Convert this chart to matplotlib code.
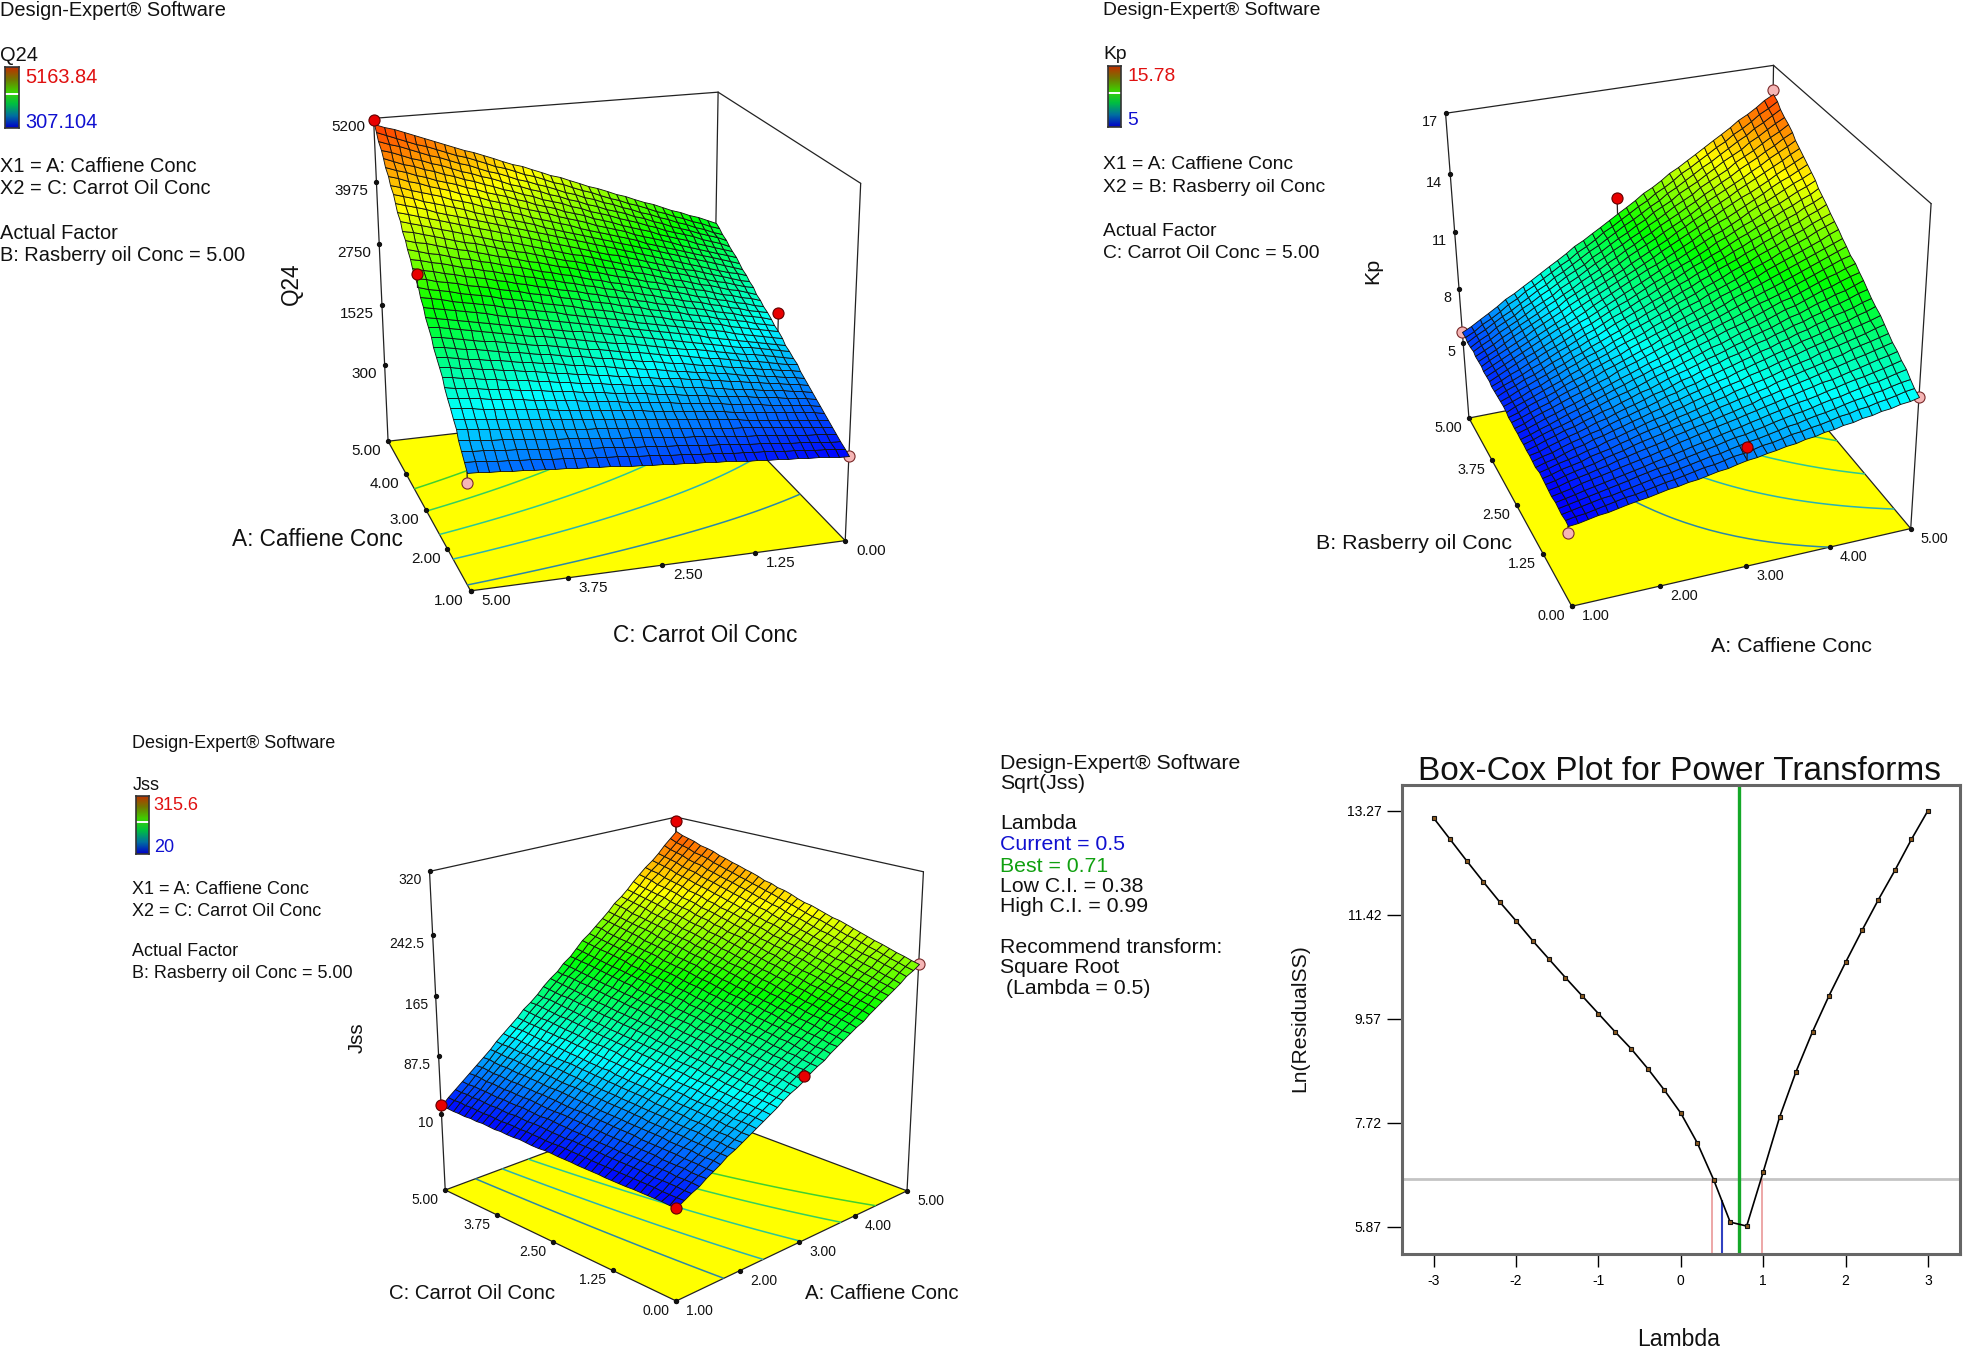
import numpy as np
import matplotlib
matplotlib.use('Agg')
import matplotlib.pyplot as plt
from matplotlib.colors import LinearSegmentedColormap, Normalize

plt.rcParams['font.family'] = ['Liberation Sans', 'DejaVu Sans']
plt.rcParams['axes.unicode_minus'] = False

# Q24 response, corners are (A, C) with B fixed at 5
q24_a = [1.0, 5.0]
q24_c = [0.0, 5.0]
q24_corners = [[307.0, 857.0], [2564.0, 5099.0]]
q24_range = [307.104, 5163.84]
q24_levels = [1000, 1650, 2300, 2950, 3600]
q24_points_a = [5, 3, 3, 1, 1]
q24_points_c = [5, 5, 0, 5, 0]
q24_points_z = [5163.84, 3230, 1806, 675, 307.1]
q24_points_above = [True, True, True, False, False]
q24_ticks_z = [300, 1525, 2750, 3975, 5200]
q24_ticks_a = [1.0, 2.0, 3.0, 4.0, 5.0]
q24_ticks_c = [0.0, 1.25, 2.5, 3.75, 5.0]

# Kp response, corners are (A, B) with C fixed at 5
kp_a = [1.0, 5.0]
kp_b = [0.0, 5.0]
kp_corners = [[4.9, 5.6], [7.7, 15.55]]
kp_range = [5.0, 15.78]
kp_levels = [7, 8.5, 10, 11.5, 13]
kp_points_a = [5, 1, 1, 5, 3, 3]
kp_points_b = [5, 5, 0, 0, 5, 0]
kp_points_z = [15.73, 5.6, 4.55, 7.7, 11.41, 7.0]
kp_points_above = [False, False, False, False, True, True]
kp_ticks_z = [5, 8, 11, 14, 17]
kp_ticks_a = [1.0, 2.0, 3.0, 4.0, 5.0]
kp_ticks_b = [0.0, 1.25, 2.5, 3.75, 5.0]

# Jss response, corners are (A, C) with B fixed at 5
jss_a = [1.0, 5.0]
jss_c = [0.0, 5.0]
jss_corners = [[20.6, 22.0], [206.0, 300.7]]
jss_range = [20.0, 315.6]
jss_levels = [55, 85, 115, 148, 178]
jss_points_a = [5, 1, 1, 5, 3]
jss_points_c = [5, 5, 0, 0, 0]
jss_points_z = [315.0, 22.7, 20.6, 206, 118]
jss_points_above = [True, True, True, False, True]
jss_ticks_z = [10, 87.5, 165, 242.5, 320]
jss_ticks_a = [1.0, 2.0, 3.0, 4.0, 5.0]
jss_ticks_c = [0.0, 1.25, 2.5, 3.75, 5.0]

# Box-Cox curve
lambda_vals = [-3.0, -2.8, -2.6, -2.4, -2.2, -2.0, -1.8, -1.6, -1.4, -1.2, -1.0,
               -0.8, -0.6, -0.4, -0.2, 0.0, 0.2, 0.4, 0.6, 0.8, 1.0,
               1.2, 1.4, 1.6, 1.8, 2.0, 2.2, 2.4, 2.6, 2.8, 3.0]
ln_rss = [13.14, 12.76, 12.38, 12.01, 11.65, 11.31, 10.96, 10.63, 10.30, 9.98, 9.66,
          9.34, 9.03, 8.68, 8.30, 7.89, 7.36, 6.70, 5.95, 5.88, 6.84,
          7.82, 8.63, 9.34, 9.98, 10.57, 11.14, 11.69, 12.21, 12.76, 13.27]
boxcox_yticks = [5.87, 7.72, 9.57, 11.42, 13.27]
boxcox_xticks = [-3, -2, -1, 0, 1, 2, 3]
lambda_best = 0.71
lambda_current = 0.5
lambda_low = 0.38
lambda_high = 0.99
ci_level = 6.725
current_top = 6.34

surface_cmap = LinearSegmentedColormap.from_list(
    'surface', ['#0000ff', '#00ffff', '#00ff00', '#ffff00', '#ff2800'])
contour_cmap = LinearSegmentedColormap.from_list(
    'contour', ['#2a88a8', '#28c0b8', '#30d070', '#40d030'])
legend_cmap = LinearSegmentedColormap.from_list(
    'legend', ['#0000c8', '#0070a0', '#00c040', '#40d000', '#707800', '#c03000'])

fig = plt.figure(figsize=(19.68, 13.52), dpi=100)
ax = fig.add_axes([0, 0, 1, 1])
ax.set_xlim(0, 1968)
ax.set_ylim(1352, 0)
ax.axis('off')


def fit_camera(world, pix):
    rows = []
    for (x, y, z), (u, v) in zip(world, pix):
        rows.append([x, y, z, 1, 0, 0, 0, 0, -u * x, -u * y, -u * z, -u])
        rows.append([0, 0, 0, 0, x, y, z, 1, -v * x, -v * y, -v * z, -v])
    return np.linalg.svd(np.array(rows, dtype=float))[2][-1].reshape(3, 4)


class Box:
    # perspective box, calibrated from where its corners sit on the canvas
    def __init__(self, ur, vr, zr, corners):
        self.ur, self.vr, self.zr = ur, vr, zr
        world = [self.norm(u, v, z) for (u, v, z), _ in corners]
        self.cam = fit_camera(world, [p for _, p in corners])

    def norm(self, u, v, z):
        return ((u - self.ur[0]) / (self.ur[1] - self.ur[0]),
                (v - self.vr[0]) / (self.vr[1] - self.vr[0]),
                (z - self.zr[0]) / (self.zr[1] - self.zr[0]))

    def project(self, u, v, z):
        x, y, w = self.norm(np.asarray(u, float), np.asarray(v, float), np.asarray(z, float))
        c = self.cam
        d = c[2, 0] * x + c[2, 1] * y + c[2, 2] * w + c[2, 3]
        return ((c[0, 0] * x + c[0, 1] * y + c[0, 2] * w + c[0, 3]) / d,
                (c[1, 0] * x + c[1, 1] * y + c[1, 2] * w + c[1, 3]) / d)


def draw_line(box, p, q):
    x, y = box.project(*zip(p, q))
    ax.plot(x, y, color='#222222', lw=0.9, solid_capstyle='round', zorder=2)


def draw_surface(box, ua, va, corners, zrange, levels, pts, ticks_z, ticks_u, ticks_v,
                 u_side, v_side, fs, cells=36):
    u0, u1 = ua
    v0, v1 = va
    zf, zt = box.zr
    zc = np.array(corners)
    uu, vv = np.meshgrid(np.linspace(u0, u1, cells + 1), np.linspace(v0, v1, cells + 1), indexing='ij')
    fu = (uu - u0) / (u1 - u0)
    fv = (vv - v0) / (v1 - v0)
    zz = (zc[0, 0] * (1 - fu) * (1 - fv) + zc[0, 1] * (1 - fu) * fv
          + zc[1, 0] * fu * (1 - fv) + zc[1, 1] * fu * fv)
    norm = Normalize(zrange[0], zrange[1])

    # floor with contours
    fx, fy = box.project(uu, vv, zf * np.ones_like(uu))
    ax.fill([fx[0, 0], fx[-1, 0], fx[-1, -1], fx[0, -1]], [fy[0, 0], fy[-1, 0], fy[-1, -1], fy[0, -1]],
            color='#ffff00', ec='#222222', lw=0.9, zorder=1)
    ax.contour(fx, fy, zz, levels=levels, cmap=contour_cmap, linewidths=1.1, zorder=1.5)

    # the three standing edges and the top
    left, right, back = box.edges
    for c in (left, right, back):
        draw_line(box, (c[0], c[1], zf), (c[0], c[1], zt))
    draw_line(box, (left[0], left[1], zt), (back[0], back[1], zt))
    draw_line(box, (back[0], back[1], zt), (right[0], right[1], zt))

    # points below the surface go first so the sheet covers their stems
    def surf_at(a, b):
        gu = (a - u0) / (u1 - u0)
        gv = (b - v0) / (v1 - v0)
        return (zc[0, 0] * (1 - gu) * (1 - gv) + zc[0, 1] * (1 - gu) * gv
                + zc[1, 0] * gu * (1 - gv) + zc[1, 1] * gu * gv)

    for a, b, z, above in pts:
        if not above:
            x, y = box.project([a, a], [b, b], [z, surf_at(a, b)])
            ax.plot(x, y, color='#222222', lw=0.9, zorder=3)
            ax.plot(x[0], y[0], 'o', ms=8, mfc='#f5b5b5', mec='#7a2a2a', mew=0.8, zorder=3)

    sx, sy = box.project(uu, vv, zz)
    ax.pcolormesh(sx, sy, 0.25 * (zz[:-1, :-1] + zz[1:, :-1] + zz[:-1, 1:] + zz[1:, 1:]),
                  cmap=surface_cmap, norm=norm, edgecolors='#101010', linewidth=0.62,
                  antialiased=True, zorder=4)

    for a, b, z, above in pts:
        if above:
            x, y = box.project([a, a], [b, b], [z, surf_at(a, b)])
            ax.plot(x, y, color='#222222', lw=0.9, zorder=5)
            ax.plot(x[0], y[0], 'o', ms=8, mfc='#e80000', mec='#600000', mew=0.8, zorder=5)

    # ticks
    for t in ticks_z:
        x, y = box.project(left[0], left[1], t)
        ax.plot(x, y, 'o', ms=2.8, color='#111111', zorder=2)
        ax.text(x - 8, y + 9, f'{t:g}', ha='right', va='center', fontsize=fs, color='#111111', zorder=6)
    for t in ticks_u:
        p = (t, u_side, zf)
        x, y = box.project(*p)
        ax.plot(x, y, 'o', ms=2.8, color='#111111', zorder=2)
        ax.text(x + box.u_off, y + 10, f'{t:.2f}', ha='left' if box.u_off > 0 else 'right',
                va='center', fontsize=fs, color='#111111', zorder=6)
    for t in ticks_v:
        p = (v_side, t, zf)
        x, y = box.project(*p)
        ax.plot(x, y, 'o', ms=2.8, color='#111111', zorder=2)
        ax.text(x + box.v_off, y + 10, f'{t:.2f}', ha='left' if box.v_off > 0 else 'right',
                va='center', fontsize=fs, color='#111111', zorder=6)


def draw_notes(x, lines, bar, fs):
    for txt, ly, col, dx in lines:
        ax.text(x + dx, ly + 2, txt, ha='left', va='center', fontsize=fs, color=col, zorder=6)
    bx0, bx1, by0, by1 = bar
    cax = fig.add_axes([bx0 / 1968, 1 - by1 / 1352, (bx1 - bx0) / 1968, (by1 - by0) / 1352])
    cax.imshow(np.linspace(1, 0, 100).reshape(-1, 1), cmap=legend_cmap, aspect='auto', extent=[0, 1, 0, 1])
    cax.axhline(0.55, color='white', lw=1.4)
    cax.set_xticks([])
    cax.set_yticks([])
    for s in cax.spines.values():
        s.set_linewidth(1.2)
        s.set_color('#333333')


# --- Q24 ---
box1 = Box((1, 5), (0, 5), (-1315, 5200), [
    ((5, 5, -1315), (387.4, 439.0)), ((5, 5, 5200), (374.2, 119.1)),
    ((1, 5, -1315), (470.7, 592.6)),
    ((1, 0, -1315), (843.8, 538.8)), ((1, 0, 5200), (862.1, 183.5)),
    ((5, 0, -1315), (714.6, 406.2)), ((5, 0, 5200), (716.3, 91.3))])
box1.edges = [(5, 5), (1, 0), (5, 0)]
box1.u_off, box1.v_off = -7, 11
draw_surface(box1, q24_a, q24_c, q24_corners, q24_range, q24_levels,
             list(zip(q24_points_a, q24_points_c, q24_points_z, q24_points_above)),
             q24_ticks_z, q24_ticks_a, q24_ticks_c, 5, 1, 11)
draw_notes(0, [('Design-Expert® Software', 9, '#111111', 0), ('Q24', 53.5, '#111111', 0),
               ('5163.84', 75.8, '#e01010', 25), ('307.104', 120.8, '#1010d0', 25),
               ('X1 = A: Caffiene Conc', 164, '#111111', 0), ('X2 = C: Carrot Oil Conc', 186.5, '#111111', 0),
               ('Actual Factor', 231.5, '#111111', 0), ('B: Rasberry oil Conc = 5.00', 253.4, '#111111', 0)],
           (5, 19, 67, 128), 14.4)
ax.text(317, 540, 'A: Caffiene Conc', ha='center', va='center', fontsize=16.3, color='#111111', zorder=6)
ax.text(705, 635.5, 'C: Carrot Oil Conc', ha='center', va='center', fontsize=16.3, color='#111111', zorder=6)
ax.text(291.6, 284, 'Q24', ha='center', va='center', rotation=90, fontsize=16.3, color='#111111', zorder=6)

# --- Kp ---
box2 = Box((1, 5), (0, 5), (0.73, 17), [
    ((1, 5, 0.73), (1468, 415.8)), ((1, 5, 17), (1446.7, 114.1)),
    ((1, 0, 0.73), (1571.6, 608)),
    ((5, 0, 0.73), (1909.3, 526.4)), ((5, 0, 17), (1932.8, 204.2)),
    ((5, 5, 0.73), (1771, 362)), ((5, 5, 17), (1771, 64.1))])
box2.edges = [(1, 5), (5, 0), (5, 5)]
box2.u_off, box2.v_off = 10, -7
draw_surface(box2, kp_a, kp_b, kp_corners, kp_range, kp_levels,
             list(zip(kp_points_a, kp_points_b, kp_points_z, kp_points_above)),
             kp_ticks_z, kp_ticks_a, kp_ticks_b, 0, 1, 10.4)
draw_notes(1103, [('Design-Expert® Software', 8.5, '#111111', 0), ('Kp', 52.6, '#111111', 0),
                  ('15.78', 74.8, '#e01010', 24.5), ('5', 118.8, '#1010d0', 24.5),
                  ('X1 = A: Caffiene Conc', 162.4, '#111111', 0), ('X2 = B: Rasberry oil Conc', 185.4, '#111111', 0),
                  ('Actual Factor', 229.5, '#111111', 0), ('C: Carrot Oil Conc = 5.00', 251.7, '#111111', 0)],
           (1108, 1121, 66, 127), 13.9)
ax.text(1413.7, 543.8, 'B: Rasberry oil Conc', ha='center', va='center', fontsize=15.4, color='#111111', zorder=6)
ax.text(1791.7, 647, 'A: Caffiene Conc', ha='center', va='center', fontsize=15.4, color='#111111', zorder=6)
ax.text(1372.8, 271, 'Kp', ha='center', va='center', rotation=90, fontsize=15.4, color='#111111', zorder=6)

# --- Jss ---
box3 = Box((1, 5), (0, 5), (-93, 320), [
    ((1, 5, -93), (445.5, 1189.6)), ((1, 5, 320), (429.8, 871.2)),
    ((1, 0, -93), (675.6, 1301.7)),
    ((5, 0, -93), (907.4, 1189.6)), ((5, 0, 320), (923.6, 872.4)),
    ((5, 5, -93), (675.6, 1105)), ((5, 5, 320), (675.6, 816.7))])
box3.edges = [(1, 5), (5, 0), (5, 5)]
box3.u_off, box3.v_off = 10, -7
draw_surface(box3, jss_a, jss_c, jss_corners, jss_range, jss_levels,
             list(zip(jss_points_a, jss_points_c, jss_points_z, jss_points_above)),
             jss_ticks_z, jss_ticks_a, jss_ticks_c, 0, 1, 10)
draw_notes(132.3, [('Design-Expert® Software', 741, '#111111', 0), ('Jss', 783.3, '#111111', 0),
                   ('315.6', 804, '#e01010', 21.4), ('20', 846, '#1010d0', 21.4),
                   ('X1 = A: Caffiene Conc', 888, '#111111', 0), ('X2 = C: Carrot Oil Conc', 909, '#111111', 0),
                   ('Actual Factor', 950, '#111111', 0), ('B: Rasberry oil Conc = 5.00', 971, '#111111', 0)],
           (136, 149, 796, 854), 13)
ax.text(472.4, 1293.2, 'C: Carrot Oil Conc', ha='center', va='center', fontsize=14.7, color='#111111', zorder=6)
ax.text(881.5, 1293.2, 'A: Caffiene Conc', ha='center', va='center', fontsize=14.7, color='#111111', zorder=6)
ax.text(356.8, 1037.2, 'Jss', ha='center', va='center', rotation=90, fontsize=14.7, color='#111111', zorder=6)

# --- middle text block ---
block = [('Design-Expert® Software', 760.6, '#111111'), ('Sqrt(Jss)', 780.7, '#111111'),
         ('Lambda', 820.8, '#111111'), ('Current = 0.5', 842.2, '#1010d0'), ('Best = 0.71', 863.5, '#10a010'),
         ('Low C.I. = 0.38', 883.6, '#111111'), ('High C.I. = 0.99', 903.7, '#111111'),
         ('Recommend transform:', 945, '#111111'), ('Square Root', 965, '#111111'), (' (Lambda = 0.5)', 986.5, '#111111')]
for txt, ly, col in block:
    ax.text(1000, ly + 2.5, txt, ha='left', va='center', fontsize=15.3, color=col, zorder=6)

# --- Box-Cox ---
bx = fig.add_axes([1402.4 / 1968, 1 - 1253.6 / 1352, (1960 - 1402.4) / 1968, (1253.6 - 784.9) / 1352])
bx.patch.set_alpha(0)
bx.axhline(ci_level, color='#c4c4c4', lw=2, zorder=1)
bx.axvline(lambda_best, color='#14a828', lw=2.4, zorder=2)
bx.vlines([lambda_low, lambda_high], 5.39, ci_level, color='#e89090', lw=1.1, zorder=2)
bx.vlines([lambda_current], 5.39, current_top, color='#3040c0', lw=1.5, zorder=2)
bx.plot(lambda_vals, ln_rss, color='black', lw=1.2, marker='s', ms=3, mfc='#8a5a20', mec='#111111', mew=0.8, zorder=3)
bx.set_xlim(-3.38, 3.39)
bx.set_ylim(5.39, 13.73)
bx.set_xticks(boxcox_xticks)
bx.set_yticks(boxcox_yticks)
bx.set_yticklabels([f'{v:.2f}' for v in boxcox_yticks])
bx.tick_params(axis='x', length=9, width=1, labelsize=10, pad=6)
bx.tick_params(axis='y', length=11, width=1, labelsize=10, pad=4)
for s in bx.spines.values():
    s.set_color('#666666')
    s.set_linewidth(2.2)
ax.text(1679, 772, 'Box-Cox Plot for Power Transforms', ha='center', va='center', fontsize=24, color='#111111')
ax.text(1679, 1339, 'Lambda', ha='center', va='center', fontsize=16.5, color='#111111')
ax.text(1299.7, 1018, 'Ln(ResidualSS)', ha='center', va='center', rotation=90, fontsize=15.2, color='#111111')

fig.savefig('out.png', dpi=100)
